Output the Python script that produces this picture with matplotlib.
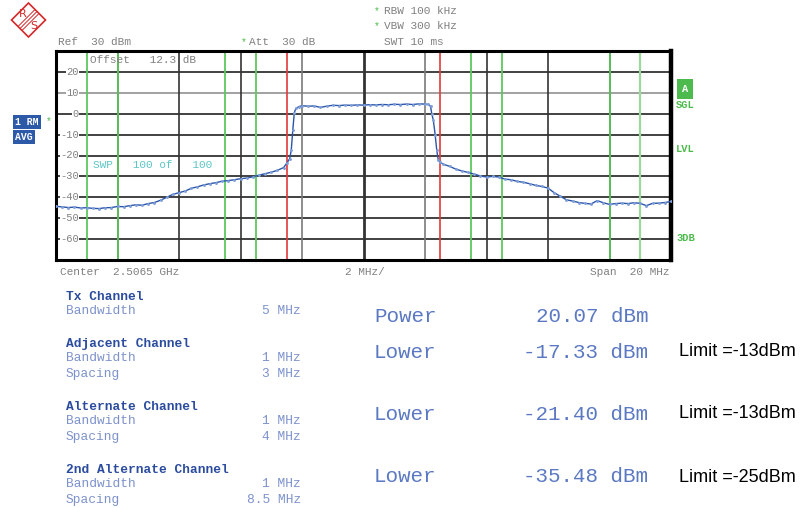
import matplotlib.pyplot as plt
from matplotlib.patches import Polygon
from matplotlib.lines import Line2D

W, H = 802, 508

# trace: frequency offset from centre (MHz) and level (dBm)
freq_mhz = [-10.0, -9.8, -9.6, -9.4, -9.2, -9.0, -8.8, -8.6, -8.4, -8.2,
            -8.0, -7.8, -7.6, -7.4, -7.2, -7.0, -6.8, -6.6, -6.4, -6.2,
            -6.0, -5.8, -5.6, -5.4, -5.2, -5.0, -4.8, -4.6, -4.4, -4.2,
            -4.0, -3.8, -3.6, -3.4, -3.2, -3.0, -2.8, -2.6, -2.5, -2.4,
            -2.35, -2.3, -2.25, -2.2, -2.1, -2.0, -1.8, -1.6, -1.4, -1.2,
            -1.0, -0.8, -0.6, -0.4, -0.2, 0.0, 0.2, 0.4, 0.6, 0.8,
            1.0, 1.2, 1.4, 1.6, 1.8, 2.0, 2.1, 2.18, 2.22, 2.27,
            2.33, 2.38, 2.43, 2.5, 2.6, 2.8, 3.0, 3.2, 3.4, 3.6,
            3.8, 4.0, 4.2, 4.4, 4.6, 4.8, 5.0, 5.2, 5.4, 5.6,
            5.8, 6.0, 6.2, 6.4, 6.6, 6.8, 7.0, 7.2, 7.4, 7.6,
            7.8, 8.0, 8.2, 8.4, 8.6, 8.8, 9.0, 9.2, 9.4, 9.6,
            9.8, 10.0]
level_dbm = [-44.3, -44.6, -44.9, -44.7, -45.1, -45.0, -45.3, -45.4, -45.0, -44.9,
             -44.4, -44.5, -44.0, -43.6, -43.8, -43.0, -42.5, -41.4, -40.0, -38.6,
             -37.8, -37.0, -35.7, -35.0, -34.1, -33.5, -33.0, -32.3, -32.0, -31.6,
             -31.1, -30.8, -30.2, -29.4, -28.7, -28.0, -27.1, -25.8, -23.8, -21.5,
             -17.5, -8.0, 0.5, 2.5, 3.4, 3.8, 3.6, 3.7, 3.0, 3.6,
             4.0, 3.9, 4.1, 4.0, 4.2, 4.1, 4.3, 4.2, 4.4, 4.3,
             4.5, 4.4, 4.6, 4.4, 4.7, 4.6, 4.5, 3.5, 0.0, -3.0,
             -10.0, -17.2, -22.0, -23.3, -24.2, -25.2, -26.5, -27.4, -28.1, -28.9,
             -29.8, -30.3, -30.0, -30.3, -31.3, -31.6, -32.4, -32.8, -33.5, -34.3,
             -34.8, -35.6, -37.8, -39.5, -41.2, -41.8, -42.5, -42.9, -43.2, -41.6,
             -42.6, -43.4, -43.0, -42.8, -43.0, -42.6, -42.9, -44.0, -42.9, -42.8,
             -42.5, -42.0]

grid_x = [-8, -6, -4, -2, 0, 2, 4, 6, 8]
grid_y = [20, 10, 0, -10, -20, -30, -40, -50, -60]
tx_lines = [-2.5, 2.5]
adj_lines = [-9.0, -8.0, -4.5, -3.5, 3.5, 4.5, 8.0]
adj_light = [9.0]

table = [
    ("Tx Channel", [("Bandwidth", "5 MHz")]),
    ("Adjacent Channel", [("Bandwidth", "1 MHz"), ("Spacing", "3 MHz")]),
    ("Alternate Channel", [("Bandwidth", "1 MHz"), ("Spacing", "4 MHz")]),
    ("2nd Alternate Channel", [("Bandwidth", "1 MHz"), ("Spacing", "8.5 MHz")]),
]
table_y = [297, 344, 407, 470]
results = [("Power", "20.07 dBm", ""),
           ("Lower", "-17.33 dBm", "Limit =-13dBm"),
           ("Lower", "-21.40 dBm", "Limit =-13dBm"),
           ("Lower", "-35.48 dBm", "Limit =-25dBm")]
results_y = [317, 352, 414, 477]

MONO = "Liberation Mono"
GRAY = "#808080"
GREEN = "#4cbb4c"
BLUE = "#2b55a8"


def px(x, y):
    return x / W, 1 - y / H


def ftext(x, y, s, **kw):
    kw.setdefault("family", MONO)
    kw.setdefault("va", "center")
    fig.text(*px(x, y), s, **kw)


fig = plt.figure(figsize=(W / 100, H / 100), dpi=100)
ax = fig.add_axes([56 / W, 1 - 260 / H, 615 / W, 209 / H])
ax.set_xlim(-10, 10)
ax.set_ylim(-70, 30)
ax.set_xticks([])
ax.set_yticks([])
for s in ax.spines.values():
    s.set_linewidth(2.2)
ax.spines["right"].set_linewidth(3.2)

for g in grid_y:
    ax.axhline(g, color="#9a9a9a" if g == 10 else "#333333", lw=1.3, zorder=1)
for g in grid_x:
    c = "#333333"
    lw = 1.2
    if g == 0:
        lw = 2.0
    if g in (-2, 2):
        c = "#7a7a7a"
    ax.axvline(g, color=c, lw=lw, zorder=1)
for f in adj_lines:
    ax.axvline(f, color="#5cc85c", lw=1.3, zorder=2)
for f in adj_light:
    ax.axvline(f, color="#9ad99a", lw=1.6, zorder=2)
for f in tx_lines:
    ax.axvline(f, color="#e23a3a", lw=1.2, zorder=2)

ax.plot(freq_mhz, level_dbm, color=BLUE, lw=1.0, marker=".", ms=2.2,
        mfc="#7f9fd8", mec="#7f9fd8", zorder=4)

for g in grid_y:
    ax.text((79 - 56) / 615, g, str(g), transform=ax.get_yaxis_transform(),
            ha="right", va="center", family=MONO, fontsize=7.5, color=GRAY, zorder=5,
            bbox=dict(facecolor="white", edgecolor="none", pad=0.3))

# texts inside the diagram
ftext(90, 60, "Offset   12.3 dB", fontsize=8, color=GRAY)
ftext(93, 165, "SWP   100 of   100", fontsize=8, color="#5cc6c6")

# header
ftext(241, 42, "*", fontsize=7, color=GREEN)
ftext(58, 42, "Ref  30 dBm", fontsize=8, color=GRAY)
ftext(249, 42, "Att  30 dB", fontsize=8, color=GRAY)
ftext(374, 11, "*", fontsize=7, color=GREEN)
ftext(384, 11, "RBW 100 kHz", fontsize=8, color=GRAY)
ftext(374, 26, "*", fontsize=7, color=GREEN)
ftext(384, 26, "VBW 300 kHz", fontsize=8, color=GRAY)
ftext(384, 42, "SWT 10 ms", fontsize=8, color=GRAY)

# footer of the diagram
ftext(60, 272, "Center  2.5065 GHz", fontsize=8, color=GRAY)
ftext(345, 272, "2 MHz/", fontsize=8, color=GRAY)
ftext(669, 272, "Span  20 MHz", fontsize=8, color=GRAY, ha="right")

# side labels
ftext(15, 122, "1 RM", fontsize=7, color="white", weight="bold",
      bbox=dict(facecolor="#2d5aa8", edgecolor="none", pad=1.5))
ftext(46, 121, "*", fontsize=7, color=GREEN)
ftext(15, 137, "AVG", fontsize=7, color="white", weight="bold",
      bbox=dict(facecolor="#2d5aa8", edgecolor="none", pad=1.5))
ftext(685, 89, "A", fontsize=7.5, color="white", weight="bold", ha="center",
      bbox=dict(facecolor="#4cba4c", edgecolor="none", boxstyle="square,pad=0.45"))
ftext(676, 105, "SGL", fontsize=7.5, color=GREEN, weight="bold")
ftext(676, 149, "LVL", fontsize=7.5, color=GREEN, weight="bold")
ftext(676, 238, "3DB", fontsize=7.5, color=GREEN, weight="bold")

# R&S logo
cx, cy, r = 28.5, 20, 17
fig.patches.append(Polygon([px(cx, cy - r), px(cx + r, cy), px(cx, cy + r), px(cx - r, cy)],
                           closed=True, fill=False, edgecolor="#d42a2a", lw=1.2,
                           transform=fig.transFigure))
for d in (-2, 0, 2):
    fig.lines.append(Line2D([px(cx - 8 + d, cy + 8 + d)[0], px(cx + 8 + d, cy - 8 + d)[0]],
                            [px(cx - 8 + d, cy + 8 + d)[1], px(cx + 8 + d, cy - 8 + d)[1]],
                            color="#d42a2a", lw=0.7, transform=fig.transFigure))
fig.text(*px(23, 14), "R", fontsize=8, color="#d42a2a", ha="center", va="center")
fig.text(*px(34, 26), "S", fontsize=8, color="#d42a2a", ha="center", va="center")

# channel table
for (title, rows), y in zip(table, table_y):
    ftext(66, y, title, fontsize=9.3, color="#2b4c9e", weight="bold")
    for i, (name, val) in enumerate(rows):
        yy = y + 14 + 16 * i
        ftext(66, yy, name, fontsize=9.3, color="#7d92cc")
        ftext(301, yy, val, fontsize=9.3, color="#7d92cc", ha="right")

for (name, val, lim), y in zip(results, results_y):
    ftext(374, y, name, fontsize=15, color="#5b78c2")
    ftext(648, y, val, fontsize=15, color="#5b78c2", ha="right")
    if lim:
        fig.text(*px(679, y), lim, family="Liberation Sans", fontsize=13, color="black",
                 va="center")

fig.savefig("out.png", dpi=100)
